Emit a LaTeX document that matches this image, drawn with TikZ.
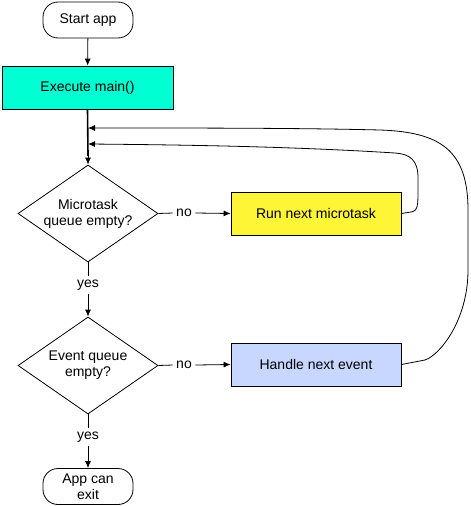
\documentclass[tikz,border=0pt]{standalone}
\usepackage{fontspec}
\setmainfont{Liberation Sans}
\usetikzlibrary{shapes.geometric,arrows.meta}
\definecolor{cmain}{RGB}{0,255,210}
\definecolor{cyel}{RGB}{255,245,55}
\definecolor{cblue}{RGB}{200,215,255}
\tikzset{
  base/.style={draw=black, line width=0.8pt, font=\fontsize{14}{16}\selectfont, align=center, inner sep=0pt},
  term/.style={base, rounded corners=15pt, minimum width=90pt, minimum height=36pt},
  proc/.style={base, minimum width=170pt, minimum height=43pt},
  dec/.style={base, diamond, minimum width=140pt, minimum height=97pt, aspect=1.44},
  lbl/.style={font=\fontsize{14}{16}\selectfont, inner sep=3.5pt},
  arr/.style={line width=0.8pt, -{Latex[length=7pt,width=6pt]}},
  ln/.style={line width=0.8pt}
}
\begin{document}
\begin{tikzpicture}[x=1pt,y=-1pt]
\useasboundingbox (0,0) rectangle (471,506);
\node[term] (start) at (88,20) {Start app};
\node[proc, fill=cmain, minimum width=171pt] (exec) at (87.5,87.5) {Execute main()};
\node[dec] (d1) at (88,213.5) {Microtask\\queue empty?};
\node[proc, fill=cyel] (run) at (316,213.5) {Run next microtask};
\node[lbl] (no1) at (184,213) {no};
\node[lbl] (yes1) at (88,285) {yes};
\node[dec] (d2) at (88,365.5) {Event queue\\empty?};
\node[proc, fill=cblue] (handle) at (316,364.5) {Handle next event};
\node[lbl] (no2) at (184,365) {no};
\node[lbl] (yes2) at (88,437) {yes};
\node[term] (exit) at (88,486.5) {App can\\exit};
\coordinate (j1) at (88,128);
\coordinate (j2) at (88,144);

\draw[arr] (start) -- (exec);
\draw[line width=1.6pt] (exec.south) -- (88,156);
\draw[arr] (88,150) -- (d1.north);
\draw[ln] (d1.east) -- (no1.west);
\draw[arr] (no1.east) -- (run.west);
\draw[ln] (d1.south) -- (yes1.north);
\draw[arr] (yes1.south) -- (d2.north);
\draw[ln] (d2.east) -- (no2.west);
\draw[arr] (no2.east) -- (handle.west);
\draw[ln] (d2.south) -- (yes2.north);
\draw[arr] (yes2.south) -- (exit.north);

\draw[arr] (run.east) -- (411,212) .. controls (418,211) and (418,205) .. (418,190)
  -- (418,178) .. controls (418,160) and (410,154) .. (395,153)
  .. controls (300,147) and (200,145) .. (j2);
\draw[arr] (handle.east) -- (425,360) .. controls (440,355) and (468,320) .. (468,270)
  -- (468,210) .. controls (468,150) and (440,132) .. (380,130)
  .. controls (300,128) and (200,128) .. (j1);
\end{tikzpicture}
\end{document}
